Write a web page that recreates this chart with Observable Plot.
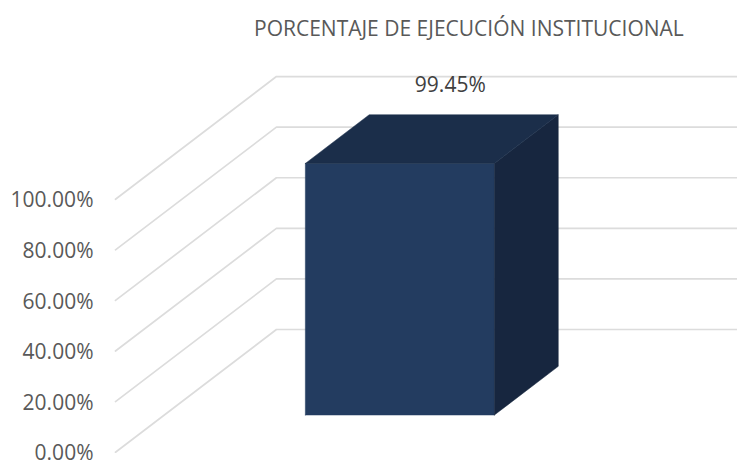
<!DOCTYPE html>
<html>
<head>
<meta charset="utf-8">
<script src="https://cdn.jsdelivr.net/npm/d3@7"></script>
<script src="https://cdn.jsdelivr.net/npm/@observablehq/plot@0.6"></script>
<style>
  html, body { margin: 0; padding: 0; background: #fff; overflow: hidden; }
  #title { height: 60px; box-sizing: border-box; padding: 15px 0 0 254px; font: 21px/26px "Open Sans", sans-serif; color: #595959; white-space: nowrap; }
  svg { display: block; }
</style>
</head>
<body>
<div id="title"></div>
<div id="chart"></div>
<script>
const chartTitle = "PORCENTAJE DE EJECUCIÓN INSTITUCIONAL";
const tickValues = [0, 20, 40, 60, 80, 100];
const barValue = 99.45;
const barLabel = "99.45%";

// Oblique 3D projection, expressed in axis units
const depthX = 0.349, depthY = 48.5;
const project = (c, d, v) => ({x: c - depthX * (1 - d), y: v + depthY * d});

// Bar extent along category (c) and depth (d) axes
const c0 = 0.306, c1 = 0.716, d0 = 0.303, d1 = 0.70;

const gridlines = tickValues.flatMap((v) => [
  {tick: v, ...project(0, 0, v)},
  {tick: v, ...project(0, 1, v)},
  {tick: v, ...project(1, 1, v)}
]);
const frontFace = [[c0,d0,0],[c1,d0,0],[c1,d0,barValue],[c0,d0,barValue]].map((p) => project(...p));
const sideFace = [[c1,d0,0],[c1,d1,0],[c1,d1,barValue],[c1,d0,barValue]].map((p) => project(...p));
const topFace = [[c0,d0,barValue],[c1,d0,barValue],[c1,d1,barValue],[c0,d1,barValue]].map((p) => project(...p));
const face = (data, fill) => Plot.line([...data, data[0]], {x: "x", y: "y", fill, stroke: fill, strokeWidth: 0.5, curve: "linear"});

document.getElementById("title").textContent = chartTitle;

const plot = Plot.plot({
  width: 737,
  height: 400,
  marginLeft: 115,
  marginRight: 0,
  marginTop: 16,
  marginBottom: 8,
  style: {fontFamily: "'Open Sans', sans-serif", background: "#fff", overflow: "visible"},
  x: {domain: [-depthX, 1], range: [115, 737], axis: null},
  y: {domain: [0, 148.4], range: [391.7, 16.3]},
  marks: [
    Plot.line(gridlines, {x: "x", y: "y", z: "tick", stroke: "#dcdcdc", strokeWidth: 1.7, curve: "linear"}),
    Plot.axisY({
      ticks: tickValues,
      tickSize: 0,
      tickPadding: 22,
      tickFormat: (d) => d.toFixed(2) + "%",
      label: null,
      fontSize: 21,
      color: "#595959",
      dy: 1.5
    }),
    face(frontFace, "#233c60"),
    face(sideFace, "#17263f"),
    face(topFace, "#1b2e4a"),
    Plot.text([project((c0 + c1) / 2, (d0 + d1) / 2, barValue)], {
      x: "x", y: "y", text: () => barLabel, dx: 18.5, dy: -54,
      fontSize: 21, fill: "#404040"
    })
  ]
});
document.getElementById("chart").appendChild(plot);
</script>
</body>
</html>
